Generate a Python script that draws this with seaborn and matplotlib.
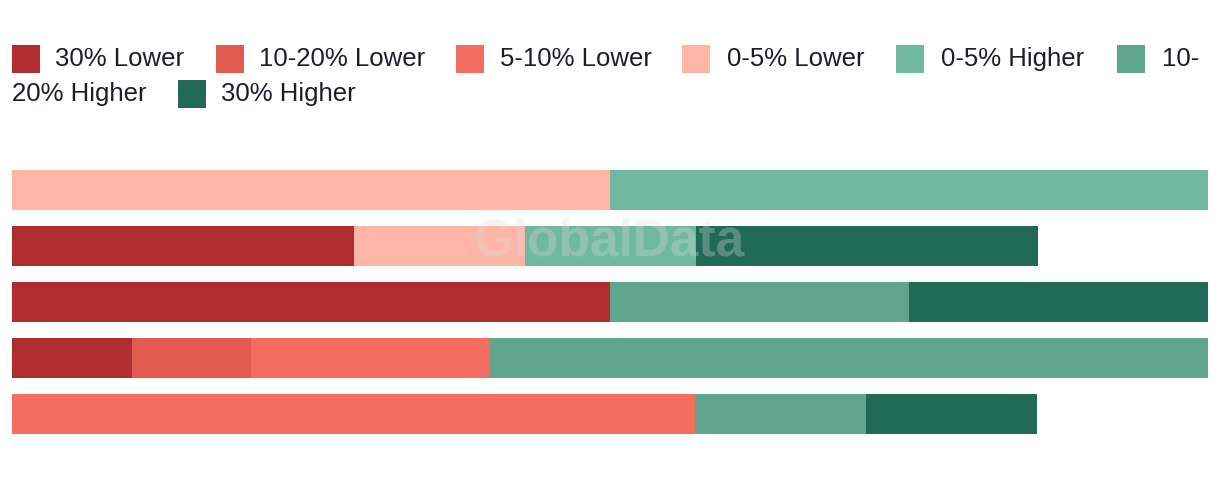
import matplotlib
matplotlib.use("Agg")
import matplotlib.pyplot as plt
from matplotlib.patches import Rectangle
import seaborn as sns
import pandas as pd
import numpy as np

# ---- data ----
rows = ["A", "B", "C", "D", "E"]
categories = ["30% Lower", "10-20% Lower", "5-10% Lower", "0-5% Lower",
              "0-5% Higher", "10-20% Higher", "30% Higher"]
lower_30 = [0, 28.6, 50, 10, 0]
lower_10_20 = [0, 0, 0, 10, 0]
lower_5_10 = [0, 0, 0, 20, 57.1]
lower_0_5 = [50, 14.3, 0, 0, 0]
higher_0_5 = [50, 14.3, 0, 0, 0]
higher_10_20 = [0, 0, 25, 60, 14.3]
higher_30 = [0, 28.6, 25, 0, 14.3]
series = [lower_30, lower_10_20, lower_5_10, lower_0_5, higher_0_5, higher_10_20, higher_30]
colors = ["#b02d2f", "#e05a4f", "#f46d61", "#feb5a6", "#70b8a0", "#60a68f", "#216b56"]

W, H, DPI = 12.2, 4.78, 100
sns.set_theme(style="white")
plt.rcParams['font.family'] = ['Liberation Sans', 'DejaVu Sans']

fig = plt.figure(figsize=(W, H), dpi=DPI)
PW, PH = W * DPI, H * DPI

def fx(px):
    return px / PW

def fy(py):
    return 1 - py / PH

# main axes: x 12..1208 px, y 162..442 px
ax = fig.add_axes([fx(12), fy(442), fx(1208) - fx(12), (442 - 162) / PH])

df = pd.DataFrame({c: s for c, s in zip(categories, series)}, index=rows)
cum = df.cumsum(axis=1)
for cat, col in reversed(list(zip(categories, colors))):
    d = pd.DataFrame({"row": rows, "val": cum[cat].values})
    sns.barplot(data=d, y="row", x="val", orient="h", color=col, width=0.714,
                saturation=1, linewidth=0, ax=ax, errorbar=None)

ax.set_xlim(0, 100)
ax.set_ylim(4.5, -0.5)
ax.set_axis_off()

# watermark
fig.text(fx(610), fy(242), "GlobalData", ha="center", va="center",
         fontsize=37, fontweight="bold", color="#dcdcdc", alpha=0.3,
         family="Liberation Sans", zorder=10)

# legend (wrapped like the original)
text_color = "#1c1c30"
entries = [
    # (square_left, row_center_y, text_left, label, color or None)
    (12, 59, 55, "30% Lower", colors[0]),
    (216, 59, 259, "10-20% Lower", colors[1]),
    (456, 59, 500, "5-10% Lower", colors[2]),
    (682, 59, 727, "0-5% Lower", colors[3]),
    (896, 59, 941, "0-5% Higher", colors[4]),
    (1117, 59, 1162, "10-", colors[5]),
    (None, 94, 12, "20% Higher", None),
    (178, 94, 221, "30% Higher", colors[6]),
]
sq = 28
for sqx, cy, tx, lab, col in entries:
    if sqx is not None:
        fig.add_artist(Rectangle((fx(sqx), fy(cy + sq / 2)), sq / PW, sq / PH,
                                 transform=fig.transFigure, facecolor=col,
                                 edgecolor="none"))
    fig.text(fx(tx), fy(cy), lab, ha="left", va="center", fontsize=18.5,
             color=text_color)

fig.savefig("out.png", dpi=DPI)
